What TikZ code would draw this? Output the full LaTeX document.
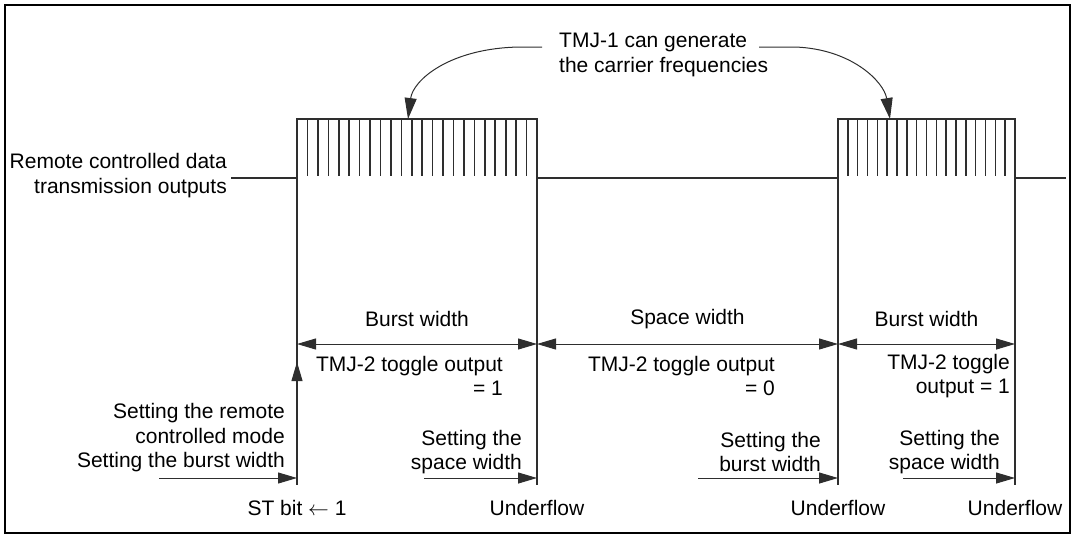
\documentclass[tikz,border=0pt]{standalone}
\usepackage{fontspec}
\setmainfont{Liberation Sans}
\usetikzlibrary{arrows.meta,positioning,calc}
\definecolor{SigGray}{HTML}{2E2E2E}

\begin{document}
\begin{tikzpicture}[x=1pt, y=-1pt,
    font=\fontsize{21}{24.5}\selectfont,
    lbl/.style={inner sep=0pt, align=center},
    sig/.style={draw=SigGray, line width=1.3pt},
    tooth/.style={draw=SigGray, line width=1.6pt},
    guide/.style={draw=SigGray, line width=1.1pt},
    dim/.style={{Triangle[length=19pt,width=11pt]}-{Triangle[length=19pt,width=11pt]}, line width=1pt, draw=SigGray},
    arrow/.style={-{Triangle[length=19pt,width=11pt]}, line width=1pt, draw=SigGray},
    curvearrow/.style={-{Triangle[length=21pt,width=12pt]}, line width=1pt, draw=SigGray}
]
\useasboundingbox (0,0) rectangle (1076,536);
\draw[line width=2pt] (5,5) rectangle (1070,533);

% edges of the bursts
\coordinate (base) at (0,178);
\coordinate (st)  at (297,485);
\coordinate (uf1) at (537,485);
\coordinate (uf2) at (838,485);
\coordinate (uf3) at (1015,485);

% output waveform
\node[lbl, align=right, anchor=east] (out) at (227,175.5) {Remote controlled data\\transmission outputs};
\draw[sig] (231,178) -- (297,178) -- (297,119) -- (537,119) -- (537,178)
    -- (838,178) -- (838,119) -- (1015,119) -- (1015,178) -- (1066,178);
\foreach \i in {1,...,22}
    \draw[tooth] ({297+\i*240/23},119) -- ({297+\i*240/23},176);
\foreach \i in {1,...,17}
    \draw[tooth] ({838+\i*177/18},119) -- ({838+\i*177/18},176);

\foreach \p in {st,uf1,uf2,uf3}
    \draw[guide] (\p |- base) -- (\p);

% carrier note
\node[lbl, align=left, anchor=west] (carrier) at (559,55) {TMJ-1 can generate\\the carrier frequencies};
\coordinate (cl) at (542,47);
\coordinate (cr) at (759,47);
\coordinate (p1) at (408,119);
\coordinate (p2) at (890,119);
\draw[curvearrow] (cl) -- (520,47) .. controls (450,48) and (413,80) .. (p1);
\draw[curvearrow] (cr) -- (795,47) .. controls (852,49) and (884,82) .. (p2);

% widths
\coordinate (w0) at (297,344);
\coordinate (w1) at (537,344);
\coordinate (w2) at (838,344);
\coordinate (w3) at (1015,344);
\draw[dim] (w0) -- (w1);
\draw[dim] (w1) -- (w2);
\draw[dim] (w2) -- (w3);
\node[lbl] (bw1) at (417,319) {Burst width};
\node[lbl] (sw)  at (687.5,319) {Space width};
\node[lbl] (bw2) at (926.5,319) {Burst width};
\node[lbl, align=right, anchor=east] (tg1) at (503,376) {TMJ-2 toggle output\\= 1};
\node[lbl, align=right, anchor=east] (tg0) at (775,376) {TMJ-2 toggle output\\= 0};
\node[lbl, align=right, anchor=east] (tg2) at (1010,376) {TMJ-2 toggle\\output = 1};

% register settings
\coordinate (a0) at (159,478);
\coordinate (a1) at (424,478);
\coordinate (a2) at (698,478);
\coordinate (a3) at (903,478);
\draw[arrow] (st) -- (297,362);
\draw[arrow] (a0) -- (a0 -| st);
\draw[arrow] (a1) -- (a1 -| uf1);
\draw[arrow] (a2) -- (a2 -| uf2);
\draw[arrow] (a3) -- (a3 -| uf3);
\node[lbl, align=right, anchor=east] (set0) at (285,438) {Setting the remote\\controlled mode\\Setting the burst width};
\node[lbl, align=right, anchor=east] (set1) at (522,452) {Setting the\\space width};
\node[lbl, align=right, anchor=east] (set2) at (821,452) {Setting the\\burst width};
\node[lbl, align=right, anchor=east] (set3) at (1000,452) {Setting the\\space width};

\node[lbl] (stbit) at (297,508) {ST bit $\leftarrow$ 1};
\node[lbl] (und1) at (537,508) {Underflow};
\node[lbl] (und2) at (838,508) {Underflow};
\node[lbl] (und3) at (1015,508) {Underflow};
\end{tikzpicture}
\end{document}
